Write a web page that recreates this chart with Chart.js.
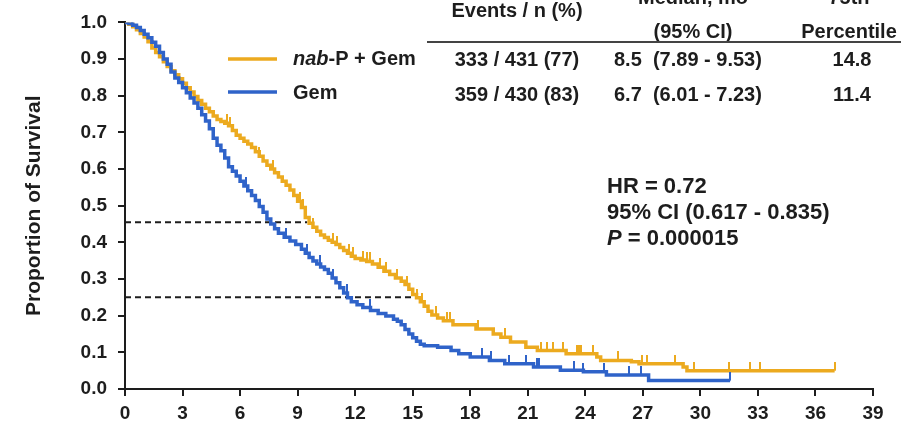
<!DOCTYPE html>
<html>
<head>
<meta charset="utf-8">
<script src="https://cdn.jsdelivr.net/npm/chart.js@4.4.1/dist/chart.umd.min.js"></script>
<style>
  html, body { margin: 0; padding: 0; background: #fff; }
  canvas { display: block; }
</style>
</head>
<body>
<canvas id="km" width="901" height="426"></canvas>
<script>
// Kaplan-Meier steps: time in months, survival after each drop
const nabMonths = [0, 0.2, 0.4, 0.6, 0.8, 1.0, 1.2, 1.4, 1.6, 1.8, 2.0, 2.2, 2.4, 2.6, 2.8, 3.0, 3.2, 3.4, 3.6, 3.8,
  4.0, 4.2, 4.4, 4.6, 4.8, 5.0, 5.2, 5.4, 5.6, 5.8, 6.0, 6.2, 6.4, 6.6, 6.8, 7.0, 7.2, 7.4, 7.6, 7.8,
  8.0, 8.2, 8.4, 8.6, 8.8, 9.0, 9.2, 9.4, 9.6, 9.8, 10.0, 10.2, 10.4, 10.6, 10.8, 11.0, 11.2, 11.4, 11.6, 11.8,
  12.0, 12.3, 12.6, 12.9, 13.2, 13.5, 13.8, 14.1, 14.4, 14.6, 14.8, 15.0, 15.2, 15.4, 15.6, 15.8, 16.0, 16.3,
  16.6, 17.1, 18.3, 19.2, 19.6, 20.1, 20.9, 21.5, 23.0, 24.6, 24.8, 26.4, 26.8, 29.1, 29.3, 37.0];
const nabSurvival = [1.000, 0.995, 0.988, 0.980, 0.970, 0.960, 0.947, 0.930, 0.918, 0.906, 0.893, 0.880, 0.868, 0.857,
  0.846, 0.834, 0.822, 0.810, 0.798, 0.787, 0.777, 0.766, 0.756, 0.745, 0.735, 0.730, 0.725, 0.718, 0.705, 0.692,
  0.684, 0.676, 0.668, 0.659, 0.647, 0.635, 0.622, 0.610, 0.600, 0.590, 0.578, 0.567, 0.556, 0.543, 0.528, 0.512,
  0.495, 0.468, 0.452, 0.441, 0.430, 0.420, 0.413, 0.406, 0.400, 0.394, 0.386, 0.378, 0.370, 0.362, 0.356, 0.352,
  0.348, 0.341, 0.332, 0.321, 0.312, 0.303, 0.294, 0.285, 0.272, 0.258, 0.249, 0.238, 0.226, 0.212, 0.202, 0.194,
  0.186, 0.175, 0.164, 0.150, 0.141, 0.128, 0.114, 0.105, 0.096, 0.087, 0.078, 0.074, 0.069, 0.060, 0.050, 0.050];
const nabCensored = [5.3, 5.5, 7.0, 7.7, 9.1, 9.3, 9.8, 10.85, 11.05, 11.7, 11.9, 12.4, 12.6, 12.8, 13.3, 13.6, 14.2,
  14.7, 15.2, 15.5, 16.2, 16.8, 16.95, 18.4, 19.8, 21.7, 22.0, 22.3, 22.85, 23.55, 23.65, 23.8, 24.4, 25.7,
  26.95, 27.2, 28.7, 29.65, 31.5, 32.6, 33.1, 37.0];

const gemMonths = [0, 0.2, 0.4, 0.6, 0.8, 1.0, 1.2, 1.4, 1.6, 1.8, 2.0, 2.2, 2.4, 2.6, 2.8, 3.0, 3.2, 3.4, 3.6, 3.8,
  4.0, 4.2, 4.4, 4.6, 4.8, 5.0, 5.2, 5.4, 5.6, 5.8, 6.0, 6.2, 6.4, 6.6, 6.8, 7.0, 7.2, 7.4, 7.6, 7.8,
  8.0, 8.3, 8.6, 8.9, 9.2, 9.4, 9.6, 9.8, 10.0, 10.2, 10.4, 10.6, 10.8, 11.0, 11.2, 11.4, 11.6, 11.8, 12.1, 12.4,
  12.8, 13.2, 13.6, 14.0, 14.2, 14.4, 14.6, 14.8, 15.0, 15.2, 15.4, 15.6, 16.3, 17.0, 17.4, 18.0, 19.0, 19.8,
  21.3, 22.7, 23.9, 25.1, 27.3, 31.55];
const gemSurvival = [1.000, 0.997, 0.992, 0.986, 0.978, 0.968, 0.958, 0.946, 0.935, 0.918, 0.900, 0.886, 0.865, 0.848,
  0.836, 0.822, 0.808, 0.794, 0.780, 0.766, 0.748, 0.731, 0.710, 0.684, 0.665, 0.650, 0.630, 0.606, 0.594, 0.581,
  0.567, 0.554, 0.541, 0.528, 0.514, 0.498, 0.482, 0.464, 0.450, 0.437, 0.425, 0.414, 0.404, 0.394, 0.381, 0.370,
  0.359, 0.349, 0.341, 0.333, 0.326, 0.316, 0.303, 0.290, 0.276, 0.262, 0.249, 0.238, 0.230, 0.222, 0.214, 0.206,
  0.199, 0.190, 0.185, 0.175, 0.162, 0.150, 0.140, 0.130, 0.122, 0.118, 0.114, 0.105, 0.096, 0.087, 0.078, 0.069,
  0.060, 0.051, 0.047, 0.038, 0.023, 0.023];
const gemCensored = [0.15, 0.35, 6.3, 8.4, 9.47, 10.16, 10.86, 11.55, 12.77, 18.6, 19.1, 20.0, 20.9, 21.5, 21.6, 23.4,
  23.9, 25.0, 26.3, 26.9, 31.55];

// median and 75th-percentile guides
const medianGuide = { y: 0.455, until: 9.5 };
const pct75Guide = { y: 0.25, until: 15.0 };

const monthTicks = { min: 0, max: 39, step: 3 };

const gold = "#ecaa1f";
const blue = "#2f63c9";
const ink = "#1d1d1d";
const face = "'Liberation Sans', Arial, Helvetica, sans-serif";

function toPoints(xs, ys) {
  return xs.map((x, i) => ({ x: x, y: ys[i] }));
}

// survival value in effect at time t (right-continuous step)
function survivalAt(xs, ys, t) {
  let s = ys[0];
  for (let i = 0; i < xs.length; i++) {
    if (xs[i] <= t) s = ys[i];
  }
  return s;
}

function censorPoints(xs, ys, times) {
  return times.map(t => ({ x: t, y: survivalAt(xs, ys, t) }));
}

// a small upward tick, the lower half is left transparent so it sits on the curve
function tickMark(color) {
  const c = document.createElement("canvas");
  c.width = 2;
  c.height = 18;
  const g = c.getContext("2d");
  g.fillStyle = color;
  g.fillRect(0, 0, 2, 9);
  return c;
}

function runText(ctx, parts, x, y, size) {
  let cx = x;
  parts.forEach(([str, italic]) => {
    ctx.font = (italic ? "italic " : "") + "bold " + size + "px " + face;
    ctx.fillText(str, cx, y);
    cx += ctx.measureText(str).width;
  });
}

const annotate = {
  id: "annotate",
  afterDraw(chart) {
    const ctx = chart.ctx;
    ctx.save();
    ctx.fillStyle = ink;
    ctx.textBaseline = "middle";

    // legend
    ctx.lineWidth = 3.5;
    ctx.strokeStyle = gold;
    ctx.beginPath(); ctx.moveTo(228, 59); ctx.lineTo(277, 59); ctx.stroke();
    ctx.strokeStyle = blue;
    ctx.beginPath(); ctx.moveTo(228, 92); ctx.lineTo(277, 92); ctx.stroke();
    ctx.textAlign = "left";
    runText(ctx, [["nab", true], ["-P + Gem", false]], 293, 59, 20);
    runText(ctx, [["Gem", false]], 293, 93, 20);

    // summary table
    ctx.font = "bold 20px " + face;
    ctx.textAlign = "center";
    ctx.fillText("Events / n (%)", 517, 11);
    ctx.fillText("Median, mo", 693, -2);
    ctx.fillText("(95% CI)", 693, 32);
    ctx.fillText("75th", 849, -2);
    ctx.fillText("Percentile", 849, 32);
    ctx.strokeStyle = "#444";
    ctx.lineWidth = 2;
    ctx.beginPath(); ctx.moveTo(427, 42); ctx.lineTo(901, 42); ctx.stroke();

    ctx.fillText("333 / 431 (77)", 517, 60);
    ctx.fillText("359 / 430 (83)", 517, 95);
    ctx.fillText("14.8", 852, 60);
    ctx.fillText("11.4", 852, 95);
    ctx.textAlign = "left";
    ctx.fillText("8.5  (7.89 - 9.53)", 614, 60);
    ctx.fillText("6.7  (6.01 - 7.23)", 614, 95);

    // hazard ratio
    ctx.font = "bold 22px " + face;
    ctx.fillText("HR = 0.72", 607, 187);
    ctx.fillText("95% CI (0.617 - 0.835)", 607, 213);
    runText(ctx, [["P", true], [" = 0.000015", false]], 607, 239, 22);
    ctx.restore();
  }
};

const tickFont = { family: face, size: 19, weight: "bold" };

new Chart(document.getElementById("km"), {
  type: "line",
  data: {
    datasets: [
      {
        label: "Gem censored",
        data: censorPoints(gemMonths, gemSurvival, gemCensored),
        showLine: false,
        pointStyle: tickMark(blue),
        pointRadius: 4
      },
      {
        label: "nab-P + Gem censored",
        data: censorPoints(nabMonths, nabSurvival, nabCensored),
        showLine: false,
        pointStyle: tickMark(gold),
        pointRadius: 4
      },
      {
        label: "Gem",
        data: toPoints(gemMonths, gemSurvival),
        stepped: true,
        borderColor: blue,
        borderWidth: 3.5,
        pointRadius: 0
      },
      {
        label: "nab-P + Gem",
        data: toPoints(nabMonths, nabSurvival),
        stepped: true,
        borderColor: gold,
        borderWidth: 3.5,
        pointRadius: 0
      },
      {
        label: "median",
        data: [{ x: 0, y: medianGuide.y }, { x: medianGuide.until, y: medianGuide.y }],
        borderColor: ink,
        borderWidth: 2,
        borderDash: [6, 4],
        pointRadius: 0
      },
      {
        label: "75th percentile",
        data: [{ x: 0, y: pct75Guide.y }, { x: pct75Guide.until, y: pct75Guide.y }],
        borderColor: ink,
        borderWidth: 2,
        borderDash: [6, 4],
        pointRadius: 0
      }
    ]
  },
  options: {
    responsive: false,
    animation: false,
    layout: { padding: { top: 19, right: 28, bottom: 0, left: 0 } },
    scales: {
      x: {
        type: "linear",
        min: monthTicks.min,
        max: monthTicks.max,
        afterFit: scale => { scale.height = 37; },
        ticks: { stepSize: monthTicks.step, font: tickFont, color: ink, padding: 6 },
        grid: { drawOnChartArea: false, tickLength: 7, color: ink, lineWidth: 2 },
        border: { color: ink, width: 2 }
      },
      y: {
        min: 0,
        max: 1,
        afterFit: scale => { scale.width = 125; },
        ticks: { stepSize: 0.1, font: tickFont, color: ink, padding: 11, callback: v => v.toFixed(1) },
        grid: { drawOnChartArea: false, tickLength: 7, color: ink, lineWidth: 2 },
        border: { color: ink, width: 2 },
        title: {
          display: true,
          text: "Proportion of Survival",
          color: ink,
          font: { family: face, size: 21, weight: "bold" },
          padding: { top: 22, bottom: 0 }
        }
      }
    },
    plugins: {
      legend: { display: false },
      tooltip: { enabled: false }
    }
  },
  plugins: [annotate]
});
</script>
</body>
</html>
